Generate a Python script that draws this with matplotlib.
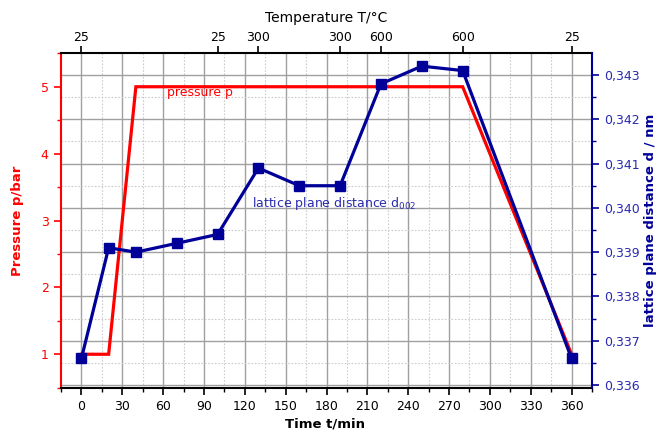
import matplotlib
matplotlib.use("Agg")
import matplotlib.pyplot as plt
from matplotlib.ticker import MultipleLocator, FuncFormatter

plt.rcParams['font.family'] = ['DejaVu Sans']

# ---- data ----
t_pressure = [0, 20, 40, 280, 360]
pressure = [1, 1, 5, 5, 1]

t_lattice = [0, 20, 40, 70, 100, 130, 160, 190, 220, 250, 280, 360]
d_lattice = [0.3366, 0.3391, 0.3390, 0.3392, 0.3394, 0.3409, 0.3405, 0.3405,
             0.3428, 0.3432, 0.3431, 0.3366]

temp_tick_times = [0, 100, 130, 190, 220, 280, 360]
temp_tick_labels = ['25', '25', '300', '300', '600', '600', '25']

RED = '#ff0000'
NAVY = '#000099'
BLUE_TXT = '#2a2ab0'

XLIM = (-15, 375)
PLIM = (0.5, 5.5)
DLIM = (0.33594, 0.34349)

fig = plt.figure(figsize=(6.61, 4.32), dpi=100)
pos = [61/661, 1-387.7/432, (592-61)/661, (387.7-53.3)/432]

# grid axes (bottom-most)
axg = fig.add_axes(pos, zorder=0)
axg.set_xlim(XLIM)
axg.set_ylim(DLIM)
axg.xaxis.set_major_locator(MultipleLocator(30))
axg.xaxis.set_minor_locator(MultipleLocator(15))
axg.yaxis.set_major_locator(MultipleLocator(0.001))
axg.yaxis.set_minor_locator(MultipleLocator(0.0005))
axg.grid(which='major', color='#a0a0a0', lw=1.0, ls='-')
axg.grid(which='minor', color='#cccccc', lw=0.8, ls=(0, (1.5, 1.5)))
axg.tick_params(which='both', length=0, labelbottom=False, labelleft=False)
for s in axg.spines.values():
    s.set_visible(False)

# pressure axes
ax = fig.add_axes(pos, zorder=1)
ax.patch.set_visible(False)
ax.set_xlim(XLIM)
ax.set_ylim(PLIM)
ax.plot(t_pressure, pressure, color=RED, lw=2.3, solid_joinstyle='miter')
ax.xaxis.set_major_locator(MultipleLocator(30))
ax.xaxis.set_minor_locator(MultipleLocator(15))
ax.yaxis.set_major_locator(MultipleLocator(1))
ax.yaxis.set_minor_locator(MultipleLocator(0.5))
ax.tick_params(axis='x', which='major', direction='out', length=5, width=1.2,
               labelsize=9, colors='black', pad=4)
ax.tick_params(axis='x', which='minor', direction='out', length=3, width=1.0)
ax.tick_params(axis='y', which='major', direction='out', length=5, width=1.2,
               labelsize=9, colors=RED, pad=4)
ax.tick_params(axis='y', which='minor', direction='out', length=3, width=1.0, colors=RED)
ax.set_xlabel('Time t/min', fontsize=9.5, fontweight='bold')
ax.xaxis.set_label_coords(0.497, -0.088)
ax.set_ylabel('Pressure p/bar', fontsize=9.5, fontweight='bold', color=RED)
ax.yaxis.set_label_coords(-0.07, 0.5)
ax.spines['left'].set_color(RED)
ax.spines['left'].set_linewidth(1.5)
ax.spines['bottom'].set_linewidth(1.5)
ax.spines['top'].set_linewidth(1.5)
ax.spines['right'].set_visible(False)
ax.text(63, 4.91, 'pressure p', color=RED, fontsize=9, va='center', ha='left')
ax.text(125, 3.26, 'lattice plane distance d$_{002}$', color=BLUE_TXT,
        fontsize=9, va='center', ha='left')

# lattice axes
ax2 = fig.add_axes(pos, zorder=2, sharex=ax)
ax2.patch.set_visible(False)
ax2.set_ylim(DLIM)
ax2.plot(t_lattice, d_lattice, color=NAVY, lw=2.3, marker='s', markersize=6.5,
         markerfacecolor=NAVY, markeredgecolor=NAVY)
ax2.yaxis.tick_right()
ax2.yaxis.set_label_position('right')
ax2.yaxis.set_major_locator(MultipleLocator(0.001))
ax2.yaxis.set_minor_locator(MultipleLocator(0.0005))
ax2.yaxis.set_major_formatter(FuncFormatter(lambda v, p: f'{v:.3f}'.replace('.', ',')))
ax2.tick_params(axis='y', which='major', direction='out', length=5, width=1.2,
                labelsize=9, colors=NAVY, labelcolor=BLUE_TXT, pad=4)
ax2.tick_params(axis='y', which='minor', direction='out', length=3, width=1.0, colors=NAVY)
ax2.tick_params(axis='x', which='both', bottom=False, labelbottom=False)
ax2.set_ylabel('lattice plane distance d / nm', fontsize=9.5, fontweight='bold', color=NAVY)
ax2.yaxis.set_label_coords(1.098, 0.5)
for k in ['left', 'top', 'bottom']:
    ax2.spines[k].set_visible(False)
ax2.spines['right'].set_color(NAVY)
ax2.spines['right'].set_linewidth(1.5)

# temperature axis on top
top = ax2.secondary_xaxis('top')
top.set_xticks(temp_tick_times)
top.set_xticklabels(temp_tick_labels)
top.tick_params(axis='x', which='major', direction='out', length=5, width=1.2,
                labelsize=9, pad=2)
top.spines['top'].set_visible(False)
top.set_xlabel('Temperature T/°C', fontsize=10, labelpad=6)

fig.savefig('out.png', dpi=100)
